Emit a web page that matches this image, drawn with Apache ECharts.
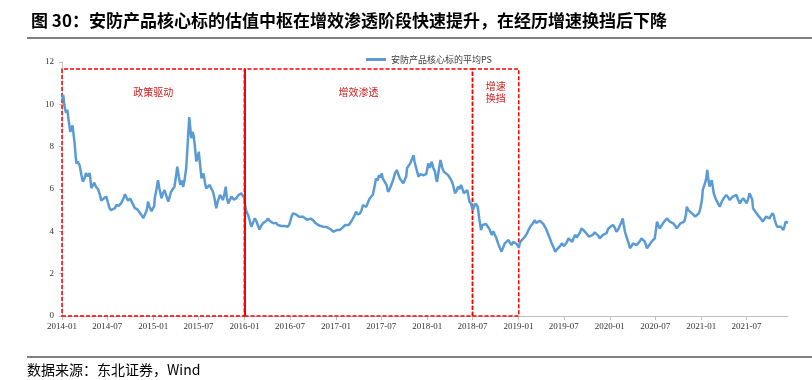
<!DOCTYPE html>
<html><head><meta charset="utf-8">
<script src="https://cdn.jsdelivr.net/npm/echarts@6/dist/echarts.min.js"></script>
<style>html,body{margin:0;padding:0;background:#fff}#c{width:812px;height:380px}</style>
</head><body><div id="c"></div>
<script>
const titleText = '图 30：安防产品核心标的估值中枢在增效渗透阶段快速提升，在经历增速换挡后下降';
const sourceText = '数据来源：东北证券，Wind';
const seriesName = '安防产品核心标的平均PS';

const ps2014 = [['01-02',10.2],['01-06',10.45],['01-10',10.0],['01-13',9.8],['01-17',9.6],['01-22',9.75],['01-27',9.3],['02-03',8.7],['02-07',8.75],['02-12',9.0],['02-16',8.6],['02-21',8.1],['02-25',7.5],['02-28',7.2],['03-05',7.3],['03-13',7.1],['03-19',6.7],['03-25',6.35],['04-01',6.5],['04-07',6.75],['04-14',6.6],['04-22',6.75],['04-28',6.05],['05-04',6.15],['05-10',6.3],['05-17',6.1],['05-25',6.0],['06-01',5.75],['06-07',5.45],['06-17',5.55],['06-27',5.65],['07-04',5.35],['07-10',5.1],['07-16',5.0],['07-24',4.93],['08-01',5.1],['08-07',5.25],['08-16',5.2],['08-25',5.32],['09-02',5.5],['09-10',5.75],['09-16',5.6],['09-22',5.45],['10-01',5.55],['10-07',5.48],['10-13',5.25],['10-19',5.1],['10-28',5.05],['11-04',4.95],['11-08',4.9],['11-16',4.75],['11-22',4.62],['11-27',4.7],['12-01',4.85],['12-07',5.05],['12-11',5.4],['12-16',5.2],['12-25',4.95]];
const ps2015 = [['01-05',5.2],['01-07',5.56],['01-14',6.0],['01-20',6.42],['01-26',6.0],['02-03',5.56],['02-09',5.8],['02-15',5.95],['02-23',5.65],['03-02',5.4],['03-07',5.6],['03-13',5.87],['03-19',5.8],['03-27',6.11],['04-02',6.6],['04-07',7.05],['04-13',6.6],['04-19',6.2],['04-25',6.4],['05-01',6.1],['05-07',6.5],['05-13',7.0],['05-19',8.2],['05-25',9.4],['05-29',8.9],['06-02',8.4],['06-07',8.7],['06-11',8.55],['06-16',8.1],['06-22',7.3],['06-28',7.5],['07-02',7.76],['07-07',7.2],['07-13',6.5],['07-21',6.74],['07-27',6.3],['08-01',6.03],['08-07',6.1],['08-15',6.19],['08-22',6.0],['08-28',5.87],['09-04',5.5],['09-10',5.09],['09-16',5.4],['09-25',5.72],['10-01',5.6],['10-07',5.48],['10-13',5.8],['10-18',6.11],['10-22',5.6],['10-28',5.32],['11-04',5.5],['11-10',5.64],['11-19',5.5],['11-29',5.56],['12-07',5.7],['12-13',5.64],['12-19',5.8],['12-24',5.75],['12-30',5.6]];
const ps2016 = [['01-04',5.2],['01-07',5.0],['01-12',4.85],['01-16',4.75],['01-22',4.5],['01-28',4.22],['02-04',4.4],['02-11',4.61],['02-17',4.5],['02-24',4.55],['03-01',4.08],['03-07',4.25],['03-15',4.38],['03-22',4.45],['03-29',4.5],['04-04',4.61],['04-10',4.5],['04-17',4.42],['04-25',4.38],['05-01',4.35],['05-07',4.4],['05-13',4.3],['05-19',4.32],['05-27',4.25],['06-04',4.22],['06-11',4.25],['06-17',4.18],['06-23',4.22],['06-29',4.35],['07-07',4.69],['07-13',4.85],['07-19',4.93],['07-25',4.8],['08-01',4.75],['08-07',4.69],['08-15',4.75],['08-22',4.69],['08-30',4.6],['09-07',4.55],['09-13',4.53],['09-22',4.6],['10-01',4.53],['10-10',4.4],['10-16',4.35],['10-22',4.3],['11-01',4.25],['11-11',4.22],['11-19',4.28],['11-25',4.2],['12-01',4.22],['12-10',4.1],['12-16',4.05],['12-22',3.98]];
const ps2017 = [['01-04',4.06],['01-10',4.0],['01-16',4.06],['01-25',4.15],['02-01',4.2],['02-07',4.3],['02-15',4.32],['02-21',4.3],['02-25',4.38],['03-02',4.45],['03-10',4.61],['03-16',4.75],['03-22',4.93],['03-28',4.8],['04-07',4.85],['04-13',5.0],['04-19',5.24],['04-25',5.3],['05-02',5.16],['05-10',5.4],['05-16',5.56],['05-22',5.5],['05-28',5.72],['06-04',6.1],['06-10',6.5],['06-16',6.4],['06-22',6.66],['06-27',6.55],['07-03',6.74],['07-07',6.5],['07-14',6.5],['07-22',6.2],['07-28',5.87],['08-04',6.0],['08-10',6.19],['08-17',6.4],['08-25',6.74],['09-01',6.9],['09-07',6.7],['09-13',6.5],['09-19',6.45],['09-27',6.27],['10-09',6.6],['10-12',6.98],['10-17',7.05],['10-25',7.21],['11-01',7.15],['11-07',7.6],['11-11',7.3],['11-16',7.21],['11-22',6.8],['11-27',6.58],['12-04',6.7],['12-10',6.74],['12-16',6.65],['12-22',6.58],['12-28',6.7]];
const ps2018 = [['01-05',7.21],['01-11',7.0],['01-19',7.29],['01-25',7.0],['02-01',6.82],['02-05',6.5],['02-09',6.34],['02-15',6.8],['02-19',7.1],['02-23',7.37],['03-02',7.0],['03-08',6.82],['03-16',6.9],['03-25',6.66],['04-01',6.6],['04-07',6.42],['04-14',6.2],['04-22',5.8],['04-28',5.9],['05-04',6.11],['05-10',6.0],['05-16',6.19],['05-22',6.0],['05-27',5.8],['06-02',5.85],['06-10',5.95],['06-14',5.7],['06-19',5.4],['06-25',5.3],['07-02',5.0],['07-13',5.32],['07-22',5.16],['07-28',4.6],['08-04',4.06],['08-10',4.3],['08-16',4.3],['08-24',4.35],['09-01',4.3],['09-07',4.1],['09-16',3.83],['09-22',4.0],['09-28',3.91],['10-04',3.7],['10-11',3.43],['10-19',3.2],['10-25',3.04],['11-01',3.25],['11-07',3.43],['11-14',3.5],['11-22',3.59],['11-28',3.45],['12-04',3.35],['12-10',3.5],['12-17',3.59],['12-25',3.4]];
const ps2019 = [['01-02',3.24],['01-08',3.5],['01-13',3.59],['01-19',3.65],['01-27',3.75],['02-04',3.9],['02-10',4.06],['02-16',4.2],['02-22',4.3],['03-01',4.4],['03-07',4.53],['03-13',4.4],['03-19',4.46],['03-27',4.5],['04-02',4.46],['04-10',4.35],['04-16',4.22],['04-22',4.1],['04-28',3.91],['05-04',3.75],['05-11',3.51],['05-19',3.3],['05-28',3.04],['06-04',3.15],['06-10',3.2],['06-16',3.3],['06-23',3.43],['07-02',3.3],['07-07',3.35],['07-14',3.5],['07-20',3.67],['07-27',3.6],['08-04',3.51],['08-10',3.7],['08-16',3.83],['08-22',3.7],['08-28',3.75],['09-04',3.95],['09-10',4.14],['09-16',4.05],['09-24',3.98],['10-01',3.9],['10-10',3.75],['10-17',3.8],['10-25',3.83],['11-02',3.95],['11-10',3.91],['11-16',3.8],['11-22',3.67],['11-28',3.75],['12-05',3.83],['12-13',3.85],['12-19',3.91],['12-25',4.1]];
const ps2020 = [['01-02',4.2],['01-07',4.25],['01-14',4.3],['01-22',4.15],['01-28',3.98],['02-04',4.1],['02-11',4.3],['02-16',4.4],['02-22',4.61],['02-26',4.3],['03-02',3.98],['03-05',3.85],['03-10',3.67],['03-16',3.45],['03-22',3.2],['03-28',3.3],['04-03',3.43],['04-09',3.35],['04-17',3.35],['04-25',3.45],['05-01',3.55],['05-07',3.67],['05-14',3.6],['05-20',3.51],['05-29',3.2],['06-07',3.35],['06-16',3.51],['06-23',3.55],['06-29',3.67],['07-03',4.0],['07-08',4.46],['07-13',4.3],['07-19',4.14],['07-25',4.25],['08-01',4.38],['08-07',4.45],['08-16',4.61],['08-22',4.55],['08-28',4.46],['09-03',4.42],['09-11',4.38],['09-19',4.25],['09-25',4.14],['10-01',4.2],['10-10',4.38],['10-17',4.4],['10-25',4.46],['11-01',4.8],['11-04',5.16],['11-10',5.0],['11-17',4.93],['11-25',4.85],['12-01',4.77],['12-08',4.7],['12-16',4.77],['12-22',4.85],['12-27',5.01]];
const ps2021 = [['01-04',5.5],['01-07',5.95],['01-11',6.1],['01-16',6.27],['01-21',6.5],['01-25',6.9],['01-30',6.4],['02-03',6.11],['02-08',6.3],['02-12',6.42],['02-16',6.1],['02-20',5.8],['02-26',5.6],['03-02',5.48],['03-10',5.3],['03-16',5.16],['03-22',5.35],['03-28',5.48],['04-03',5.6],['04-11',5.72],['04-19',5.6],['04-25',5.48],['05-01',5.55],['05-07',5.64],['05-14',5.6],['05-22',5.72],['05-28',5.5],['06-04',5.32],['06-10',5.45],['06-17',5.56],['06-25',5.45],['07-01',5.32],['07-07',5.5],['07-13',5.8],['07-19',5.87],['07-24',5.5],['07-27',5.09],['08-02',5.0],['08-10',4.85],['08-16',4.75],['08-24',4.65],['08-30',4.6],['09-04',4.46],['09-10',4.55],['09-17',4.69],['09-25',4.6],['10-01',4.61],['10-07',4.75],['10-13',4.85],['10-18',4.75],['10-22',4.53],['10-27',4.35],['11-01',4.22],['11-08',4.3],['11-16',4.22],['11-20',4.15],['11-25',4.06],['11-29',4.2],['12-05',4.46],['12-09',4.5],['12-14',4.4]];

const xTickDates = ['2014-01-01','2014-07-01','2015-01-01','2015-07-01','2016-01-01','2016-07-01','2017-01-01','2017-07-01','2018-01-01','2018-07-01','2019-01-01','2019-07-01','2020-01-01','2020-07-01','2021-01-01','2021-07-01'];
const xMin = '2014-01-01', xMax = '2021-12-14';
const yMin = 0, yMax = 12, yInterval = 2;

const phases = [
  {name: '政策驱动', start: '2014-01-01', end: '2016-01-01', top: 11.67},
  {name: '增效渗透', start: '2016-01-01', end: '2018-07-01', top: 11.67},
  {name: '增速\n换挡', start: '2018-07-01', end: '2019-01-02', top: 11.67}
];
const solidDivider = '2016-01-01';

// day count since 1970 (UTC) so the x scale is linear in calendar days
function toDay(s) { const [y, m, d] = s.split('-').map(Number); return Date.UTC(y, m - 1, d) / 86400000; }
function dayLabel(v) { const d = new Date(Math.round(v) * 86400000); return d.getUTCFullYear() + '-' + String(d.getUTCMonth() + 1).padStart(2, '0'); }
const years = {2014: ps2014, 2015: ps2015, 2016: ps2016, 2017: ps2017, 2018: ps2018, 2019: ps2019, 2020: ps2020, 2021: ps2021};
const seriesData = [];
Object.keys(years).forEach(y => years[y].forEach(([md, v]) => seriesData.push([toDay(y + '-' + md), v])));
const xTicks = xTickDates.map(toDay);

const red = '#ff0000';
const chart = echarts.init(document.getElementById('c'), null, {renderer: 'canvas'});
chart.setOption({
  backgroundColor: '#fff',
  animation: false,
  title: {text: titleText, left: 26, top: 7, textStyle: {fontSize: 17, fontWeight: 'bold', fontFamily: 'Noto Sans CJK SC', color: '#000'}},
  legend: {data: [seriesName], left: 361, top: 50, icon: 'rect', itemWidth: 20, itemHeight: 3, textStyle: {fontSize: 9, fontFamily: 'Noto Sans CJK SC', color: '#404040'}},
  grid: {left: 62, right: 24, top: 62, bottom: 64, containLabel: false},
  xAxis: {
    type: 'value', min: toDay(xMin), max: toDay(xMax), scale: true,
    axisLine: {show: true, onZero: false, lineStyle: {color: '#bfbfbf', width: 1}},
    axisTick: {show: true, length: 4, lineStyle: {color: '#bfbfbf'}, customValues: xTicks},
    axisLabel: {customValues: xTicks, fontSize: 9, fontFamily: 'Liberation Serif', color: '#333', margin: 6, formatter: dayLabel},
    splitLine: {show: false}
  },
  yAxis: {
    type: 'value', min: yMin, max: yMax, interval: yInterval,
    axisLine: {show: true, lineStyle: {color: '#bfbfbf', width: 1}},
    axisTick: {show: true, length: 3, lineStyle: {color: '#bfbfbf'}},
    axisLabel: {fontSize: 9, fontFamily: 'Liberation Serif', color: '#333', margin: 8},
    splitLine: {show: false}
  },
  series: [{
    name: seriesName, type: 'line', data: seriesData, showSymbol: false, symbol: 'none',
    lineStyle: {color: '#5b9bd5', width: 2.5}, itemStyle: {color: '#5b9bd5'},
    markArea: {
      silent: true,
      itemStyle: {color: 'rgba(0,0,0,0)', borderColor: red, borderWidth: 1.5, borderType: [4, 2]},
      label: {color: '#d02020', fontSize: 10, fontFamily: 'Noto Sans CJK SC', position: 'insideTop'},
      data: phases.map((p, i) => [
        {name: p.name, xAxis: toDay(p.start), yAxis: 0,
         label: i === 2 ? {distance: 12, lineHeight: 12} : {distance: 19}},
        {xAxis: toDay(p.end), yAxis: p.top}
      ])
    },
    markLine: {
      silent: true, symbol: ['none', 'none'], label: {show: false},
      lineStyle: {color: red, width: 2, type: 'solid'},
      data: [[{coord: [toDay(solidDivider), 0]}, {coord: [toDay(solidDivider), phases[0].top]}]]
    }
  }],
  graphic: [
    {type: 'line', shape: {x1: 27, y1: 38, x2: 812, y2: 38}, style: {stroke: '#808080', lineWidth: 2}},
    {type: 'line', shape: {x1: 27, y1: 357, x2: 812, y2: 357}, style: {stroke: '#808080', lineWidth: 2}},
    {type: 'text', left: 27, top: 363, style: {text: sourceText, fontSize: 14, fontFamily: 'Noto Sans CJK SC', fill: '#000'}}
  ]
});
</script></body></html>
